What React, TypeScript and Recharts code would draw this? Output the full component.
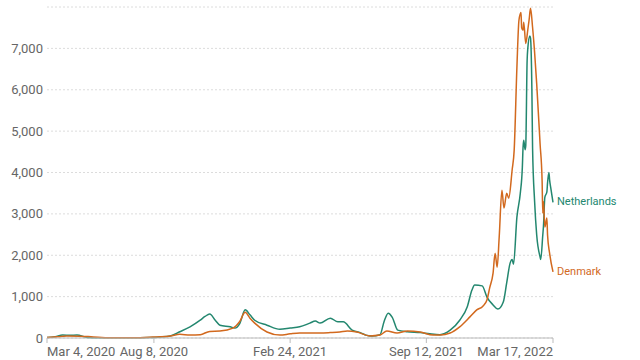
import { LineChart, Line, XAxis, YAxis, CartesianGrid, LabelList } from "recharts";

// days counted from Mar 4, 2020
const tickDays = [0, 157, 357, 557, 743];
const tickLabels = ["Mar 4, 2020", "Aug 8, 2020", "Feb 24, 2021", "Sep 12, 2021", "Mar 17, 2022"];
const yTicks = [0, 1000, 2000, 3000, 4000, 5000, 6000, 7000];

const nlDays = [
  0, 12, 23, 34, 44, 59, 78, 122, 151, 166, 181, 195, 210, 225, 232, 239, 247, 254, 269, 276,
  283, 291, 298, 305, 323, 342, 357, 371, 386, 394, 401, 416, 427, 435, 448, 460, 468, 477, 489,
  495, 501, 507, 515, 529, 548, 562, 577, 592, 606, 617, 624, 628, 639, 646, 655, 662, 670, 675,
  680, 683, 685, 690, 695, 698, 699, 700, 702, 703, 705, 706, 709, 710, 712, 713, 716, 719, 724,
  725, 728, 729, 731, 734, 735, 737, 738, 740, 743,
];
const nlCases = [
  10, 30, 70, 65, 70, 15, 5, 5, 10, 25, 50, 150, 270, 430, 520, 580, 430, 310, 270, 240,
  350, 680, 560, 430, 310, 210, 240, 270, 360, 410, 360, 480, 390, 390, 190, 130, 70, 50, 80,
  400, 600, 500, 190, 150, 130, 100, 80, 190, 430, 750, 1160, 1280, 1260, 990, 800, 700, 870, 1330,
  1810, 1900, 1780, 2920, 3500, 4130, 4600, 4780, 4550, 4650, 6700, 7000, 7300, 7250, 6000, 4600, 3300, 2500, 1960,
  1900, 2490, 2700, 3400, 3530, 3750, 4000, 3820, 3600, 3280,
];

const dkDays = [
  0, 15, 29, 48, 68, 93, 122, 151, 166, 181, 195, 210, 225, 239, 254, 273, 283, 291, 298, 305,
  323, 342, 357, 371, 401, 416, 430, 441, 455, 474, 489, 499, 514, 529, 548, 567, 577, 592, 606,
  621, 631, 640, 646, 650, 655, 658, 661, 664, 668, 671, 675, 678, 683, 686, 690, 693, 696, 697,
  699, 700, 703, 706, 708, 710, 713, 716, 719, 724, 727, 728, 729, 731, 734, 735, 738, 743,
];
const dkCases = [
  10, 30, 50, 45, 25, 5, 5, 20, 30, 50, 90, 70, 80, 160, 170, 240, 400, 620, 480, 360,
  145, 70, 100, 120, 120, 130, 145, 170, 145, 50, 70, 170, 120, 170, 145, 70, 70, 120, 270,
  510, 680, 770, 920, 1210, 1570, 2050, 1710, 2440, 3570, 3140, 3500, 3380, 4060, 4540, 6540, 7680, 7870, 7500,
  7440, 7630, 7120, 7450, 7700, 7970, 7510, 6900, 6160, 4700, 3800, 3020, 3300, 2680, 2900, 2490, 2050, 1600,
];

const nlData = nlDays.map((day, i) => ({ day, value: nlCases[i] }));
const dkData = dkDays.map((day, i) => ({ day, value: dkCases[i] }));

const GREEN = "#23876f";
const ORANGE = "#d2691e";
const FONT = "Roboto, 'Liberation Sans', Arial, sans-serif";

const DateTick = (props: any) => {
  const { x, y, payload } = props;
  const i = tickDays.indexOf(payload.value);
  const anchor = i === 0 ? "start" : i === tickDays.length - 1 ? "end" : "middle";
  return (
    <text x={x} y={y} dy={9} textAnchor={anchor} fill="#666" fontSize={13} fontFamily={FONT}>
      {tickLabels[i]}
    </text>
  );
};

const endLabel = (name: string, color: string, lastIndex: number) => (props: any) => {
  const { x, y, index } = props;
  if (index !== lastIndex) return <g />;
  return (
    <text x={x + 4} y={y} dominantBaseline="middle" fill={color} fontSize={11} fontFamily={FONT}>
      {name}
    </text>
  );
};

export default function App() {
  return (
    <div style={{ position: "absolute", left: 0, top: 0, width: 640, height: 360, background: "#fff" }}>
      <LineChart width={640} height={360} margin={{ top: 7, right: 87, bottom: 0, left: 0 }}>
        <CartesianGrid vertical={false} stroke="#dcdcdc" strokeDasharray="2 2" />
        <XAxis
          dataKey="day"
          type="number"
          domain={[0, 743]}
          ticks={tickDays}
          height={22}
          tickSize={5}
          tickMargin={4}
          stroke="#bbb"
          tick={<DateTick />}
          allowDuplicatedCategory={false}
        />
        <YAxis
          type="number"
          domain={[0, 8000]}
          ticks={yTicks}
          width={47}
          axisLine={false}
          tickLine={false}
          tickSize={0}
          tickMargin={4}
          tick={{ fill: "#666", fontSize: 13, fontFamily: FONT }}
          tickFormatter={(v) => v.toLocaleString("en-US")}
        />
        <Line
          data={nlData}
          dataKey="value"
          type="monotone"
          stroke={GREEN}
          strokeWidth={1.5}
          dot={false}
          isAnimationActive={false}
        >
          <LabelList dataKey="value" content={endLabel("Netherlands", GREEN, nlData.length - 1)} />
        </Line>
        <Line
          data={dkData}
          dataKey="value"
          type="monotone"
          stroke={ORANGE}
          strokeWidth={1.5}
          dot={false}
          isAnimationActive={false}
        >
          <LabelList dataKey="value" content={endLabel("Denmark", ORANGE, dkData.length - 1)} />
        </Line>
      </LineChart>
    </div>
  );
}
